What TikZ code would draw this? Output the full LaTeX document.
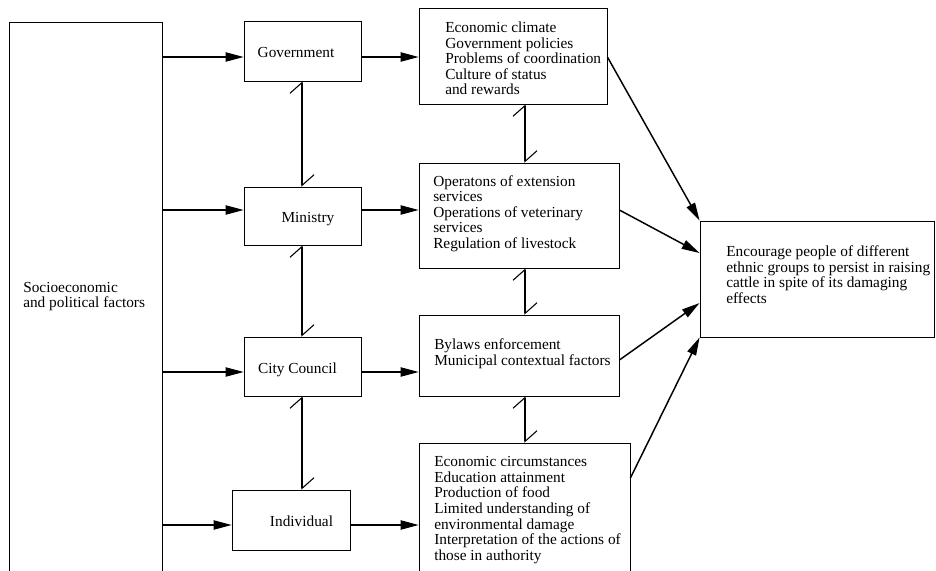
\documentclass[tikz,border=0pt]{standalone}
\usepackage{fontspec}
\setmainfont{Liberation Serif}
\usetikzlibrary{arrows.meta,fit,calc}
\begin{document}
\begin{tikzpicture}[x=0.75pt,y=-0.75pt,
  box/.style={draw, line width=0.6pt, inner sep=0pt},
  txt/.style={inner sep=0pt, anchor=west, align=left, font=\fontsize{11.5}{11.7}\selectfont},
  lab/.style={inner sep=0pt, anchor=base, font=\fontsize{11.5}{11.7}\selectfont},
  arr/.style={-{Triangle[length=13.5pt,width=7pt]}, line width=0.8pt},
  darr/.style={arr, line width=1.1pt},
  barb/.style={{Straight Barb[left,length=8pt,width=18pt]}-{Straight Barb[left,length=8pt,width=18pt]}, line width=0.8pt}
]
\useasboundingbox (0,0) rectangle (936,571);
\fill[white] (0,0) rectangle (936,571);
\clip (0,0) rectangle (936,571);

% boxes
\node[box, fit={(9,22)(162,640)}] (soc) {};
\node[box, fit={(244,21)(361,81)}] (gov) {};
\node[box, fit={(244,187)(361,245)}] (min) {};
\node[box, fit={(244,337)(361,396)}] (cc) {};
\node[box, fit={(232,490)(350,550)}] (ind) {};
\node[box, fit={(419,8)(607,104)}] (econ) {};
\node[box, fit={(419,163)(619,268)}] (ops) {};
\node[box, fit={(419,315)(619,396)}] (byl) {};
\node[box, fit={(419,443)(630,640)}] (circ) {};
\node[box, fit={(700,221)(934,337)}] (enc) {};

% texts
\node[txt] (soct) at (23,296.5) {Socioeconomic\\and political factors};
\node[lab] (govt) at (296,57) {Government};
\node[lab] (mint) at (308,222) {Ministry};
\node[lab] (cct) at (297.5,373) {City Council};
\node[lab] (indt) at (301.5,526) {Individual};
\node[txt] (econt) at (445,58.5) {Economic climate\\Government policies\\Problems of coordination\\Culture of status\\and rewards};
\node[txt] (opst) at (433,213.5) {Operatons of extension\\services\\Operations of veterinary\\services\\Regulation of livestock};
\node[txt] (bylt) at (434,353.5) {Bylaws enforcement\\Municipal contextual factors};
\node[txt] (circt) at (434,510) {Economic circumstances\\Education attainment\\Production of food\\Limited understanding of\\environmental damage\\Interpretation of the actions of\\those in authority};
\node[txt] (enct) at (726,274.5) {Encourage people of different\\ethnic groups to persist in raising\\cattle in spite of its damaging\\effects};

% row and column coordinates
\coordinate (r1) at (0,57);
\coordinate (r2) at (0,210);
\coordinate (r3) at (0,372);
\coordinate (r4) at (0,525);
\coordinate (d3) at (0,360);
\coordinate (d4) at (0,478);
\coordinate (e2) at (0,253);
\coordinate (e3) at (0,303);
\coordinate (c1) at (302,0);
\coordinate (c2) at (525,0);

% horizontal arrows
\draw[arr] (soc.east |- r1) -- (gov.west |- r1);
\draw[arr] (soc.east |- r2) -- (min.west |- r2);
\draw[arr] (soc.east |- r3) -- (cc.west |- r3);
\draw[arr] (soc.east |- r4) -- (ind.west |- r4);
\draw[arr] (gov.east |- r1) -- (econ.west |- r1);
\draw[arr] (min.east |- r2) -- (ops.west |- r2);
\draw[arr] (cc.east |- r3) -- (byl.west |- r3);
\draw[arr] (ind.east |- r4) -- (circ.west |- r4);

% vertical links
\draw[barb] (gov.south -| c1) -- (min.north -| c1);
\draw[barb] (min.south -| c1) -- (cc.north -| c1);
\draw[barb] (cc.south -| c1) -- (ind.north -| c1);
\draw[barb] (econ.south -| c2) -- (ops.north -| c2);
\draw[barb] (ops.south -| c2) -- (byl.north -| c2);
\draw[barb] (byl.south -| c2) -- (circ.north -| c2);

% diagonal arrows
\draw[darr] (econ.east |- r1) -- (enc.north west);
\draw[darr] (ops.east |- r2) -- (enc.west |- e2);
\draw[darr] (byl.east |- d3) -- (enc.west |- e3);
\draw[darr] (circ.east |- d4) -- (enc.south west);
\end{tikzpicture}
\end{document}
